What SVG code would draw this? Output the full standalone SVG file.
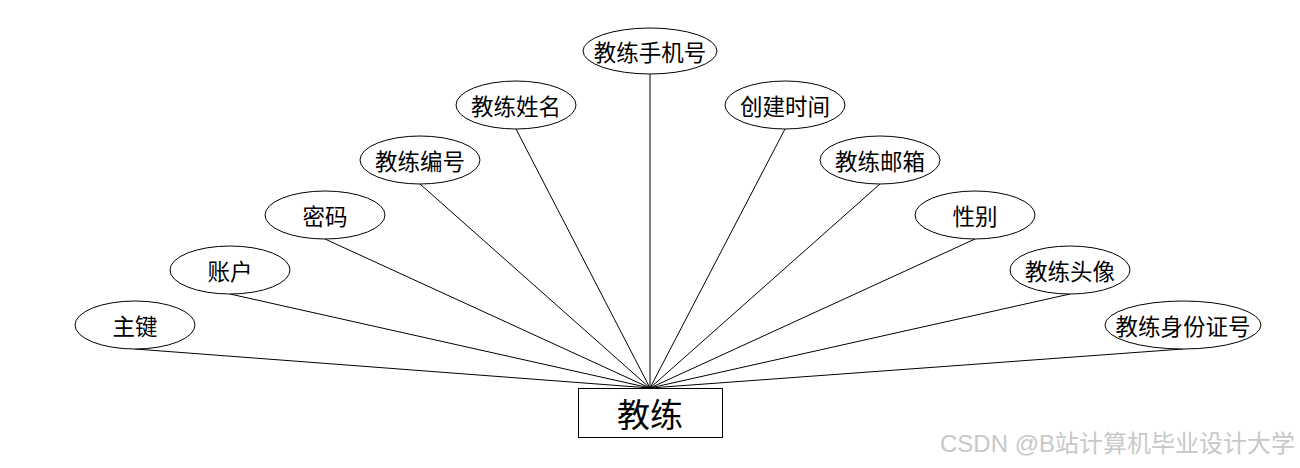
<svg xmlns="http://www.w3.org/2000/svg" width="1300" height="468" viewBox="0 0 1300 468">
<style>
.e{fill:#fff;stroke:#000;stroke-width:1}
.t{font-family:"Noto Sans CJK SC","Liberation Sans",sans-serif;font-size:22.500px;text-anchor:middle;dominant-baseline:central;fill:#000}
.c{stroke:#000;stroke-width:1;fill:none}
</style>
<rect width="1300" height="468" fill="#fff"/>
<g id="connectors">
<line class="c" x1="135" y1="349" x2="650" y2="388"/>
<line class="c" x1="230" y1="294" x2="650" y2="388"/>
<line class="c" x1="325" y1="239" x2="650" y2="388"/>
<line class="c" x1="420" y1="184" x2="650" y2="388"/>
<line class="c" x1="516" y1="129" x2="650" y2="388"/>
<line class="c" x1="650" y1="74" x2="650" y2="388"/>
<line class="c" x1="785" y1="129" x2="650" y2="388"/>
<line class="c" x1="880" y1="184" x2="650" y2="388"/>
<line class="c" x1="975" y1="239" x2="650" y2="388"/>
<line class="c" x1="1070" y1="294" x2="650" y2="388"/>
<line class="c" x1="1183" y1="349" x2="650" y2="388"/>
</g>
<g id="entity">
<rect x="578.500" y="388.500" width="144" height="49" fill="#fff" stroke="#000"/>
<text x="650" y="413" class="t" style="font-size:33px">教练</text>
</g>
<g id="n1"><ellipse class="e" cx="135" cy="325" rx="60" ry="24"/><text class="t" x="135" y="325">主键</text></g>
<g id="n2"><ellipse class="e" cx="230" cy="270" rx="60" ry="24"/><text class="t" x="230" y="270">账户</text></g>
<g id="n3"><ellipse class="e" cx="325" cy="215" rx="60" ry="24"/><text class="t" x="325" y="215">密码</text></g>
<g id="n4"><ellipse class="e" cx="420" cy="160" rx="60" ry="24"/><text class="t" x="420" y="160">教练编号</text></g>
<g id="n5"><ellipse class="e" cx="516" cy="105" rx="60" ry="24"/><text class="t" x="516" y="105">教练姓名</text></g>
<g id="n6"><ellipse class="e" cx="650" cy="51" rx="67" ry="23"/><text class="t" x="650" y="51">教练手机号</text></g>
<g id="n7"><ellipse class="e" cx="785" cy="105" rx="60" ry="24"/><text class="t" x="785" y="105">创建时间</text></g>
<g id="n8"><ellipse class="e" cx="880" cy="160" rx="60" ry="24"/><text class="t" x="880" y="160">教练邮箱</text></g>
<g id="n9"><ellipse class="e" cx="975" cy="215" rx="60" ry="24"/><text class="t" x="975" y="215">性别</text></g>
<g id="n10"><ellipse class="e" cx="1070" cy="270" rx="60" ry="24"/><text class="t" x="1070" y="270">教练头像</text></g>
<g id="n11"><ellipse class="e" cx="1183" cy="325" rx="78" ry="24"/><text class="t" x="1183" y="325">教练身份证号</text></g>
<text x="1295" y="443" style="font-family:'Liberation Sans','Noto Sans CJK SC',sans-serif;font-size:24px;text-anchor:end;dominant-baseline:central;fill:#c8c8c8">CSDN @B站计算机毕业设计大学</text>
</svg>
